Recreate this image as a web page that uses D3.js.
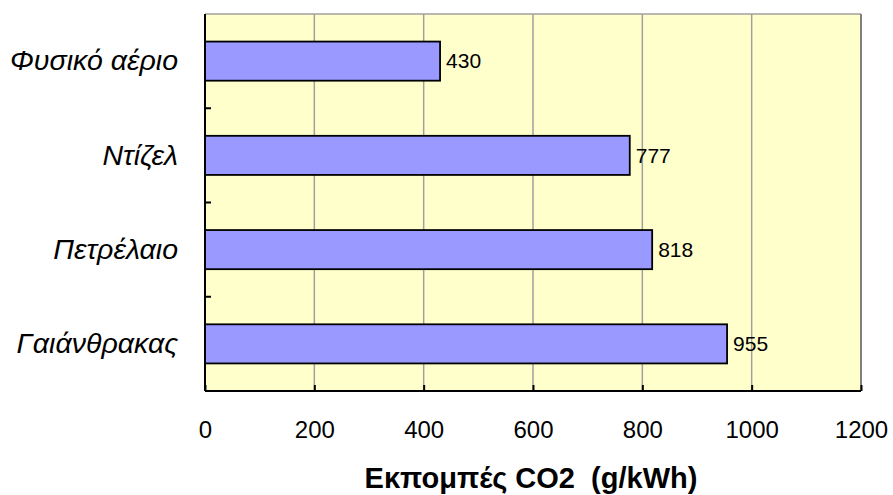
<!DOCTYPE html>
<html><head><meta charset="utf-8">
<script src="https://cdn.jsdelivr.net/npm/d3@7"></script>
<style>body{margin:0;background:#fff}svg{display:block}</style>
</head><body>
<svg id="c" width="893" height="495"></svg>
<script>
const categories = ["Φυσικό αέριο", "Ντίζελ", "Πετρέλαιο", "Γαιάνθρακας"];
const values = [430, 777, 818, 955];
const xTicks = [0, 200, 400, 600, 800, 1000, 1200];
const xTitle = "Εκπομπές CO2\u00a0\u00a0(g/kWh)";

const svg = d3.select("#c");
const L = 205, R = 861, T = 14, B = 391;
const x = d3.scaleLinear().domain([0, 1200]).range([L, R]);
const y = d3.scaleBand().domain(categories).range([T, B]).paddingInner(0.585).paddingOuter(0.2925);
const band = d3.scaleBand().domain(categories).range([T, B]);
const font = "'Liberation Sans', Arial, sans-serif";

svg.append("rect").attr("x", L).attr("y", T).attr("width", R - L).attr("height", B - T).attr("fill", "#ffffcc");

// gridlines
svg.append("g").selectAll("line").data(xTicks.slice(1)).join("line")
  .attr("x1", d => x(d)).attr("x2", d => x(d)).attr("y1", T).attr("y2", B)
  .attr("stroke", "#a0a0a0").attr("stroke-width", 1.5);
// top border
svg.append("line").attr("x1", L).attr("x2", R).attr("y1", T).attr("y2", T).attr("stroke", "#a0a0a0").attr("stroke-width", 1.5);
svg.append("line").attr("x1", R).attr("x2", R).attr("y1", T).attr("y2", B).attr("stroke", "#808080").attr("stroke-width", 2);

// bars
svg.append("g").selectAll("rect").data(values).join("rect")
  .attr("x", x(0)).attr("y", (d, i) => y(categories[i]))
  .attr("width", d => x(d) - x(0)).attr("height", y.bandwidth())
  .attr("fill", "#9999ff").attr("stroke", "#000").attr("stroke-width", 1.8);

// value labels
svg.append("g").selectAll("text").data(values).join("text")
  .attr("x", d => x(d) + 6).attr("y", (d, i) => y(categories[i]) + y.bandwidth() / 2)
  .attr("dy", "0.35em").attr("font-family", font).attr("font-size", 21).attr("fill", "#000")
  .text(d => d);

// x axis
const xAxis = d3.axisBottom(x).tickValues(xTicks).tickSize(-6).tickPadding(30).tickFormat(d3.format("d"));
const gx = svg.append("g").attr("transform", `translate(0,${B})`).call(xAxis);
gx.select(".domain").attr("stroke", "#000").attr("stroke-width", 2).attr("d", `M${L},0H${R}`);
gx.selectAll(".tick line").attr("stroke", "#000").attr("stroke-width", 2);
gx.selectAll(".tick text").attr("font-family", font).attr("font-size", 24).attr("fill", "#000");

// y axis with ticks at band boundaries
const yAxis = d3.axisLeft(y).tickSize(0).tickPadding(27);
const gy = svg.append("g").attr("transform", `translate(${L},0)`).call(yAxis);
gy.select(".domain").attr("stroke", "#000").attr("stroke-width", 2).attr("d", `M0,${T}V${B}`);
gy.selectAll(".tick text").attr("font-family", font).attr("font-size", 28.5).attr("font-style", "italic").attr("fill", "#000");
svg.append("g").selectAll("line").data(categories.slice(1)).join("line")
  .attr("x1", L).attr("x2", L + 6).attr("y1", d => band(d)).attr("y2", d => band(d))
  .attr("stroke", "#000").attr("stroke-width", 2);

// title
svg.append("text").attr("x", 531).attr("y", 488).attr("text-anchor", "middle")
  .attr("font-family", font).attr("font-size", 29).attr("font-weight", "bold").attr("fill", "#000")
  .text(xTitle);
</script>
</body></html>
